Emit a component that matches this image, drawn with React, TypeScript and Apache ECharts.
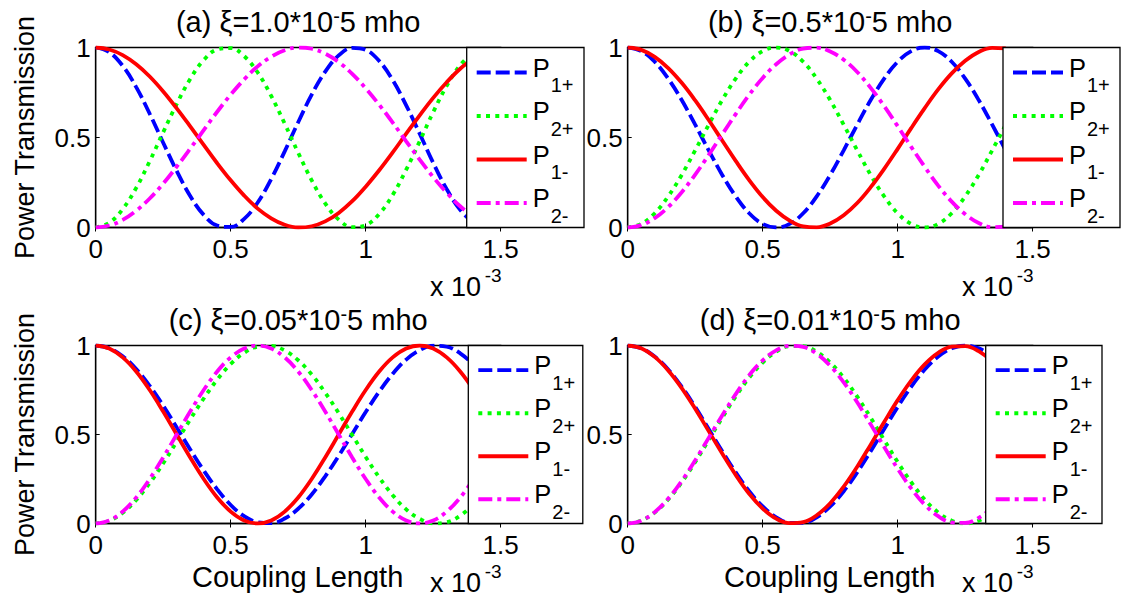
import { useEffect, useRef } from 'react';
import * as echarts from 'echarts';

// Coupling length samples (units of 10^-3)
const COUPLING_LENGTH = [0, 0.05, 0.1, 0.15, 0.2, 0.25, 0.3, 0.35, 0.4, 0.45, 0.5, 0.55, 0.6, 0.65, 0.7, 0.75, 0.8, 0.85, 0.9, 0.95, 1, 1.05, 1.1, 1.15, 1.2, 1.25, 1.3, 1.35, 1.4];

// (a) xi = 1.0e-5 mho
const A_P1_PLUS = [1, 0.974, 0.898, 0.78, 0.632, 0.471, 0.314, 0.175, 0.07, 0.011, 0.003, 0.048, 0.139, 0.269, 0.423, 0.585, 0.738, 0.866, 0.956, 0.998, 0.987, 0.925, 0.819, 0.679, 0.521, 0.359, 0.213, 0.098, 0.024];
const A_P2_PLUS = [0, 0.026, 0.102, 0.22, 0.368, 0.529, 0.686, 0.825, 0.93, 0.989, 0.997, 0.952, 0.861, 0.731, 0.577, 0.415, 0.262, 0.134, 0.044, 0.002, 0.013, 0.075, 0.181, 0.321, 0.479, 0.641, 0.787, 0.902, 0.976];
const A_P1_MINUS = [1, 0.989, 0.958, 0.907, 0.839, 0.756, 0.662, 0.562, 0.459, 0.357, 0.262, 0.177, 0.105, 0.051, 0.015, 0.0, 0.007, 0.034, 0.081, 0.146, 0.227, 0.318, 0.417, 0.521, 0.623, 0.72, 0.807, 0.882, 0.94];
const A_P2_MINUS = [0, 0.011, 0.042, 0.093, 0.161, 0.244, 0.338, 0.438, 0.541, 0.643, 0.738, 0.823, 0.895, 0.949, 0.985, 1.0, 0.993, 0.966, 0.919, 0.854, 0.773, 0.682, 0.583, 0.479, 0.377, 0.28, 0.193, 0.118, 0.06];

// (b) xi = 0.5e-5 mho
const B_P1_PLUS = [1, 0.98, 0.921, 0.827, 0.708, 0.571, 0.429, 0.292, 0.173, 0.079, 0.02, 0.0, 0.02, 0.079, 0.173, 0.292, 0.429, 0.571, 0.708, 0.827, 0.921, 0.98, 1.0, 0.98, 0.921, 0.827, 0.708, 0.571, 0.429];
const B_P2_PLUS = [0, 0.02, 0.079, 0.173, 0.292, 0.429, 0.571, 0.708, 0.827, 0.921, 0.98, 1.0, 0.98, 0.921, 0.827, 0.708, 0.571, 0.429, 0.292, 0.173, 0.079, 0.02, 0.0, 0.02, 0.079, 0.173, 0.292, 0.429, 0.571];
const B_P1_MINUS = [1, 0.987, 0.948, 0.886, 0.804, 0.706, 0.597, 0.483, 0.37, 0.263, 0.169, 0.093, 0.038, 0.006, 0.001, 0.022, 0.068, 0.136, 0.224, 0.326, 0.437, 0.552, 0.663, 0.767, 0.856, 0.926, 0.975, 0.998, 0.995];
const B_P2_MINUS = [0, 0.013, 0.052, 0.114, 0.196, 0.294, 0.403, 0.517, 0.63, 0.737, 0.831, 0.907, 0.962, 0.994, 0.999, 0.978, 0.932, 0.864, 0.776, 0.674, 0.563, 0.448, 0.337, 0.233, 0.144, 0.074, 0.025, 0.002, 0.005];

// (c) xi = 0.05e-5 mho
const C_P1_PLUS = [1, 0.985, 0.94, 0.868, 0.773, 0.662, 0.54, 0.416, 0.298, 0.192, 0.104, 0.041, 0.007, 0.002, 0.028, 0.083, 0.163, 0.265, 0.38, 0.503, 0.626, 0.741, 0.841, 0.921, 0.974, 0.999, 0.993, 0.956, 0.892];
const C_P2_PLUS = [0, 0.015, 0.06, 0.132, 0.227, 0.338, 0.46, 0.584, 0.702, 0.808, 0.896, 0.959, 0.993, 0.998, 0.972, 0.917, 0.837, 0.735, 0.62, 0.497, 0.374, 0.259, 0.159, 0.079, 0.026, 0.001, 0.007, 0.044, 0.108];
const C_P1_MINUS = [1, 0.983, 0.933, 0.854, 0.75, 0.629, 0.5, 0.371, 0.25, 0.146, 0.067, 0.017, 0.0, 0.017, 0.067, 0.146, 0.25, 0.371, 0.5, 0.629, 0.75, 0.854, 0.933, 0.983, 1.0, 0.983, 0.933, 0.854, 0.75];
const C_P2_MINUS = [0, 0.017, 0.067, 0.146, 0.25, 0.371, 0.5, 0.629, 0.75, 0.854, 0.933, 0.983, 1.0, 0.983, 0.933, 0.854, 0.75, 0.629, 0.5, 0.371, 0.25, 0.146, 0.067, 0.017, 0.0, 0.017, 0.067, 0.146, 0.25];

// (d) xi = 0.01e-5 mho
const D_P1_PLUS = [1, 0.984, 0.938, 0.865, 0.768, 0.655, 0.531, 0.406, 0.287, 0.181, 0.096, 0.035, 0.004, 0.004, 0.035, 0.096, 0.181, 0.287, 0.406, 0.531, 0.655, 0.768, 0.865, 0.938, 0.984, 1.0, 0.984, 0.938, 0.865];
const D_P2_PLUS = [0, 0.016, 0.062, 0.135, 0.232, 0.345, 0.469, 0.594, 0.713, 0.819, 0.904, 0.965, 0.996, 0.996, 0.965, 0.904, 0.819, 0.713, 0.594, 0.469, 0.345, 0.232, 0.135, 0.062, 0.016, 0.0, 0.016, 0.062, 0.135];
const D_P1_MINUS = [1, 0.984, 0.936, 0.86, 0.761, 0.645, 0.519, 0.393, 0.273, 0.167, 0.084, 0.027, 0.002, 0.008, 0.046, 0.114, 0.207, 0.319, 0.443, 0.57, 0.693, 0.803, 0.894, 0.959, 0.994, 0.997, 0.968, 0.909, 0.823];
const D_P2_MINUS = [0, 0.016, 0.064, 0.14, 0.239, 0.355, 0.481, 0.607, 0.727, 0.833, 0.916, 0.973, 0.998, 0.992, 0.954, 0.886, 0.793, 0.681, 0.557, 0.43, 0.307, 0.197, 0.106, 0.041, 0.006, 0.003, 0.032, 0.091, 0.177];

// Panel captions: text before and after the superscript minus
const PANEL_CAPTIONS = [
  ['(a) ξ=1.0*10', '5 mho'],
  ['(b) ξ=0.5*10', '5 mho'],
  ['(c) ξ=0.05*10', '5 mho'],
  ['(d) ξ=0.01*10', '5 mho'],
];

const SERIES_NAMES = ['P1+', 'P2+', 'P1-', 'P2-'];
const LEGEND_MAIN = ['P', 'P', 'P', 'P'];
const LEGEND_SUB = ['1+', '2+', '1-', '2-'];
const Y_LABEL = 'Power Transmission';
const X_LABEL = 'Coupling Length';
const X_EXPONENT = ['x 10', '-3'];

const PANEL_DATA = [
  [A_P1_PLUS, A_P2_PLUS, A_P1_MINUS, A_P2_MINUS],
  [B_P1_PLUS, B_P2_PLUS, B_P1_MINUS, B_P2_MINUS],
  [C_P1_PLUS, C_P2_PLUS, C_P1_MINUS, C_P2_MINUS],
  [D_P1_PLUS, D_P2_PLUS, D_P1_MINUS, D_P2_MINUS],
];

// Layout of the four axes boxes and their legend boxes (pixels)
const LAYOUT = [
  { left: 95.7, top: 47.5, height: 180, legendLeft: 466.7, legendWidth: 117.3, yLabel: true, xLabel: false },
  { left: 627.7, top: 47.5, height: 180, legendLeft: 1003, legendWidth: 117, yLabel: false, xLabel: false },
  { left: 95.7, top: 345.5, height: 178, legendLeft: 468.3, legendWidth: 114.5, yLabel: true, xLabel: true },
  { left: 627.7, top: 345.5, height: 178, legendLeft: 985.7, legendWidth: 116.3, yLabel: false, xLabel: true },
];
const AXIS_WIDTH = 405; // 0 .. 1.5 (x 10^-3)

const FONT = '"Liberation Sans", Arial, Helvetica, sans-serif';
const LINE_W = 3.8;
const LINE_STYLES = [
  { color: '#0000ff', dash: [14, 5] as number[] | null },
  { color: '#00ff00', dash: [4, 5.3] },
  { color: '#ff0000', dash: null },
  { color: '#ff00ff', dash: [14, 5, 4, 5] },
];
const LEGEND_ROWS = [25, 68.5, 112, 155.5];

function textEl(text: string, x: number, y: number, size: number, align = 'left', extra: any = {}) {
  return {
    type: 'text',
    z: 101,
    ...extra,
    style: {
      text, x, y,
      fontSize: size, fontFamily: FONT, fill: '#000',
      align, verticalAlign: 'middle', textAlign: align, textVerticalAlign: 'middle',
    },
  };
}

function buildOption() {
  const grid: any[] = [];
  const xAxis: any[] = [];
  const yAxis: any[] = [];
  const series: any[] = [];
  const graphic: any[] = [];

  LAYOUT.forEach((p, pi) => {
    grid.push({
      left: p.left,
      top: p.top,
      width: AXIS_WIDTH,
      height: p.height,
      show: true,
      borderColor: '#000',
      borderWidth: 1.3,
      backgroundColor: 'transparent',
      outerBoundsMode: 'none',
      containLabel: false,
    });
    xAxis.push({
      type: 'value',
      gridIndex: pi,
      position: 'bottom',
      min: 0,
      max: 1.5,
      interval: 0.5,
      axisLine: { show: true, onZero: false, lineStyle: { color: '#000', width: 1.3 } },
      axisTick: { show: true, inside: true, length: 4, lineStyle: { color: '#000', width: 1 } },
      axisLabel: { show: true, color: '#000', fontSize: 26, fontFamily: FONT, margin: 8 },
      splitLine: { show: false },
    });
    xAxis.push({
      type: 'value',
      gridIndex: pi,
      position: 'top',
      min: 0,
      max: 1.5,
      interval: 0.5,
      axisLine: { show: false },
      axisTick: { show: true, inside: true, length: 4, lineStyle: { color: '#000', width: 1 } },
      axisLabel: { show: false },
      splitLine: { show: false },
    });
    yAxis.push({
      type: 'value',
      gridIndex: pi,
      min: 0,
      max: 1,
      interval: 0.5,
      axisLine: { show: true, onZero: false, lineStyle: { color: '#000', width: 1.3 } },
      axisTick: { show: true, inside: true, length: 4, lineStyle: { color: '#000', width: 1 } },
      axisLabel: { show: true, color: '#000', fontSize: 26, fontFamily: FONT, margin: 5 },
      splitLine: { show: false },
    });

    PANEL_DATA[pi].forEach((values, si) => {
      const st = LINE_STYLES[si];
      series.push({
        name: SERIES_NAMES[si],
        type: 'line',
        xAxisIndex: pi * 2,
        yAxisIndex: pi,
        data: COUPLING_LENGTH.map((x, i) => [x, values[i]]),
        smooth: 0.4,
        showSymbol: false,
        symbol: 'none',
        lineStyle: { color: st.color, width: LINE_W, type: st.dash ? st.dash : 'solid', cap: 'butt' },
        itemStyle: { color: st.color },
        z: 2 + si,
      });
    });

    // legend box
    const H = p.height;
    graphic.push({
      type: 'rect',
      z: 100,
      shape: { x: p.legendLeft, y: p.top, width: p.legendWidth, height: H },
      style: { fill: '#fff', stroke: '#000', lineWidth: 1.3 },
    });
    LEGEND_ROWS.forEach((off, ri) => {
      const ry = p.top + off * (H / 180);
      const st = LINE_STYLES[ri];
      graphic.push({
        type: 'line',
        z: 101,
        shape: { x1: p.legendLeft + 10, y1: ry, x2: p.legendLeft + 60, y2: ry },
        style: { stroke: st.color, lineWidth: LINE_W, lineDash: st.dash || undefined, lineCap: 'butt' },
      });
      graphic.push(textEl(LEGEND_MAIN[ri], p.legendLeft + 66, ry - 5, 25.5));
      graphic.push(textEl(LEGEND_SUB[ri], p.legendLeft + 84, ry + 12.5, 20));
    });

    // caption above each panel
    graphic.push({
      type: 'text',
      z: 50,
      style: {
        text: `{m|${PANEL_CAPTIONS[pi][0]}}{s|-}{m|${PANEL_CAPTIONS[pi][1]}}`,
        x: p.left + AXIS_WIDTH / 2,
        y: p.top - 26,
        align: 'center', verticalAlign: 'middle', textAlign: 'center', textVerticalAlign: 'middle',
        fontSize: 29, fontFamily: FONT, fill: '#000',
        rich: {
          m: { fontSize: 29, fontFamily: FONT, lineHeight: 31, fill: '#000', color: '#000' },
          s: { fontSize: 20, fontFamily: FONT, lineHeight: 21, verticalAlign: 'top', fill: '#000', color: '#000' },
        },
      },
    });

    // x-axis exponent
    const bottom = p.top + H;
    graphic.push(textEl(X_EXPONENT[0], p.left + 334.3, bottom + 59, 27, 'left', { z: 50 }));
    graphic.push(textEl(X_EXPONENT[1], p.left + 389, bottom + 47.5, 19, 'left', { z: 50 }));

    if (p.yLabel) {
      graphic.push({
        type: 'text',
        z: 50,
        x: 25,
        y: p.top + H / 2,
        rotation: Math.PI / 2,
        style: {
          text: Y_LABEL, x: 0, y: 0,
          fontSize: 27, fontFamily: FONT, fill: '#000',
          align: 'center', verticalAlign: 'middle', textAlign: 'center', textVerticalAlign: 'middle',
        },
      });
    }
    if (p.xLabel) {
      graphic.push(textEl(X_LABEL, p.left + 202, bottom + 53.5, 29, 'center', { z: 50 }));
    }
  });

  return {
    animation: false,
    backgroundColor: '#fff',
    textStyle: { fontFamily: FONT, color: '#000' },
    grid,
    xAxis,
    yAxis,
    series,
    graphic: { elements: graphic },
  };
}

export default function App() {
  const ref = useRef<HTMLDivElement | null>(null);
  useEffect(() => {
    if (!ref.current) return;
    const chart = echarts.init(ref.current, undefined, { renderer: 'svg' });
    chart.setOption(buildOption() as any);
    return () => chart.dispose();
  }, []);
  return (
    <div
      ref={ref}
      style={{ position: 'fixed', left: 0, top: 0, width: 1121, height: 596, background: '#fff' }}
    />
  );
}
